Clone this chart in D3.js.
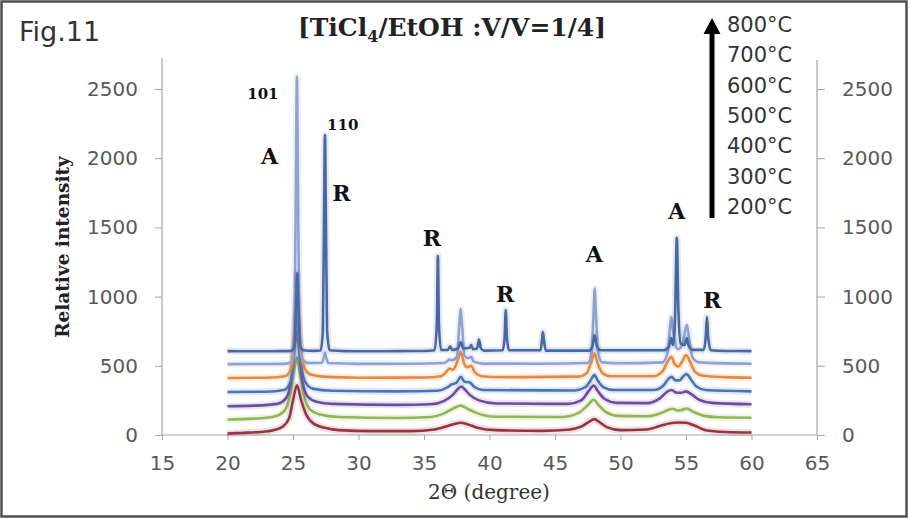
<!DOCTYPE html>
<html>
<head>
<meta charset="utf-8">
<script src="https://cdn.jsdelivr.net/npm/d3@7"></script>
<style>
  body { margin: 0; background: #fff; }
  svg { display: block; }
</style>
</head>
<body>
<div id="chart"></div>
<script>
// annealing temperatures, bottom to top
const temps = ["200°C", "300°C", "400°C", "500°C", "600°C", "700°C", "800°C"];
const colors = ["#973345", "#93b556", "#6b4e9e", "#4775b8", "#e8883b", "#8fa2d2", "#47699f"];

const xTicks = [15, 20, 25, 30, 35, 40, 45, 50, 55, 60, 65];
const yTicks = [0, 500, 1000, 1500, 2000, 2500];

// [2theta, intensity] (curves are stacked, offset ~100 each)
const s200 = [[20,10],[21,15],[22.5,22],[23.5,35],[24.2,60],[24.7,120],[25.0,250],[25.3,360],[25.6,260],[26.0,150],[26.6,80],[27.5,50],[28.5,35],[31,28],[34,28],[35.8,40],[36.8,65],[37.4,82],[37.8,88],[38.3,78],[39,55],[40.5,35],[44,30],[46,38],[47,60],[47.6,95],[48,115],[48.4,92],[49,55],[50,35],[52,40],[53,65],[53.8,85],[54.4,90],[55,88],[55.6,70],[56.5,35],[58,22],[60,18]];
const s300 = [[20,112],[22,118],[23.5,132],[24.3,170],[24.8,300],[25.1,480],[25.3,560],[25.5,460],[25.8,300],[26.3,185],[27,150],[28.5,130],[33,123],[35.5,130],[36.6,160],[37.3,195],[37.8,212],[38.3,190],[39,160],[40.5,132],[45.5,130],[46.8,160],[47.5,215],[47.95,255],[48.3,220],[48.9,165],[49.8,138],[52,135],[53,155],[53.6,180],[53.95,190],[54.35,178],[54.65,180],[55.05,192],[55.5,170],[56.3,140],[57.5,128],[60,125]];
const s400 = [[20,208],[22,212],[23.8,225],[24.5,270],[24.9,420],[25.15,650],[25.3,750],[25.45,620],[25.7,400],[26.1,280],[26.8,240],[28,225],[33,218],[35.5,222],[36.5,245],[37.2,290],[37.6,335],[37.85,350],[38.1,330],[38.5,290],[39.2,250],[40.5,228],[46,225],[47,250],[47.6,320],[47.95,358],[48.25,320],[48.8,260],[49.7,232],[52,230],[53,265],[53.6,315],[53.9,325],[54.3,305],[54.6,305],[55.0,315],[55.4,295],[56,255],[57,232],[60,222]];
const s500 = [[20,311],[23,313],[24.3,325],[24.8,380],[25.05,560],[25.2,800],[25.3,880],[25.42,760],[25.6,540],[25.9,390],[26.5,335],[28,320],[33,315],[36,320],[36.8,345],[37.1,365],[37.5,380],[37.8,420],[38.1,385],[38.5,380],[38.8,350],[39.5,325],[46.5,322],[47.3,345],[47.75,400],[48.0,435],[48.25,395],[48.7,345],[49.5,325],[52.5,325],[53.3,360],[53.7,410],[53.9,420],[54.2,395],[54.5,395],[54.85,430],[55.05,440],[55.35,405],[55.8,350],[56.5,325],[60,315]];
const s600 = [[20,412],[23,414],[24.4,425],[24.8,470],[25.05,650],[25.2,900],[25.3,1000],[25.42,880],[25.6,620],[25.9,480],[26.4,435],[27.5,420],[30,414],[35,415],[36.3,425],[36.7,455],[36.95,480],[37.2,470],[37.5,520],[37.8,600],[38.05,520],[38.3,490],[38.6,500],[38.9,450],[39.4,425],[41,418],[46.8,422],[47.4,445],[47.75,520],[48.0,590],[48.25,520],[48.6,450],[49.2,425],[52.5,425],[53.2,460],[53.6,530],[53.88,565],[54.15,510],[54.4,495],[54.7,530],[55.0,578],[55.3,530],[55.7,455],[56.3,428],[58,418],[60,414]];
const s700 = [[20,512],[23,513],[24.5,516],[24.9,530],[25.1,700],[25.22,1800],[25.3,2590],[25.38,1800],[25.5,700],[25.75,540],[26.2,520],[27.2,522],[27.35,560],[27.44,595],[27.53,560],[27.7,520],[30,514],[34,515],[36.5,520],[36.8,535],[36.95,545],[37.1,540],[37.5,560],[37.7,800],[37.8,912],[37.9,800],[38.1,570],[38.4,555],[38.6,565],[38.8,530],[39.5,516],[44,515],[47.5,520],[47.8,600],[47.95,900],[48.03,1058],[48.12,880],[48.3,590],[48.6,525],[50,518],[53.2,525],[53.6,600],[53.8,800],[53.88,853],[53.98,780],[54.2,650],[54.4,620],[54.7,650],[54.95,760],[55.07,795],[55.2,720],[55.5,560],[56,525],[60,515]];
const s800 = [[20,606],[22,605],[24,606],[24.9,608],[25.1,640],[25.25,1000],[25.32,1170],[25.4,980],[25.55,640],[25.8,612],[26.5,608],[27.1,610],[27.28,750],[27.38,1700],[27.44,2168],[27.5,1700],[27.6,760],[27.8,612],[29,606],[31,605],[33,606],[35,607],[35.8,612],[35.98,800],[36.06,1293],[36.14,800],[36.3,615],[36.8,614],[37.0,640],[37.15,615],[37.6,625],[37.8,670],[38.0,625],[38.5,630],[38.6,650],[38.75,620],[39.05,625],[39.2,690],[39.35,625],[39.6,610],[41.0,612],[41.15,700],[41.24,903],[41.33,700],[41.5,612],[43.9,612],[44.02,700],[44.07,744],[44.15,690],[44.3,610],[47.6,610],[47.85,640],[48.03,720],[48.2,640],[48.5,612],[53.3,612],[53.7,640],[53.87,700],[54.0,650],[54.15,800],[54.3,1424],[54.42,900],[54.6,660],[54.9,650],[55.05,700],[55.2,645],[55.5,615],[56.35,615],[56.5,700],[56.6,853],[56.7,700],[56.9,612],[58,607],[60,606]];
const series = [s200, s300, s400, s500, s600, s700, s800];

// phase labels: [text, 2theta, intensity]
const phaseLabels = [["A", 23.2, 2015], ["R", 28.7, 1750], ["R", 35.6, 1425], ["R", 41.2, 1020], ["A", 48.0, 1310], ["A", 54.3, 1620], ["R", 57.0, 975]];
const hklLabels = [["101", 22.7, 2462], ["110", 28.8, 2240]];

const width = 909, height = 519;
const svg = d3.select("#chart").append("svg")
    .attr("width", width)
    .attr("height", height);

// frame
svg.append("rect")
    .attr("x", 1.5).attr("y", 1.5)
    .attr("width", width - 4).attr("height", height - 4)
    .attr("fill", "none").attr("stroke", "#505050").attr("stroke-width", 2.5);

let x = d3.scaleLinear().domain([15, 65]).range([162, 817]);
let y = d3.scaleLinear().domain([0, 2500]).range([435, 89]);
const yTop = 58;

const tickFont = "DejaVu Sans";

// x axis
let xAxis = svg.append("g")
    .attr("transform", `translate(0,${y(0)})`)
    .call(d3.axisBottom(x).tickValues(xTicks).tickSize(5).tickPadding(16).tickFormat(d3.format("d")));
xAxis.select(".domain").remove();
xAxis.selectAll("line").attr("stroke", "#a6a6a6");
xAxis.selectAll("text").attr("font-family", tickFont).attr("font-size", 20).attr("fill", "#595959");

// left y axis
let yAxisL = svg.append("g")
    .attr("transform", `translate(${x(15)},0)`)
    .call(d3.axisLeft(y).tickValues(yTicks).tickSize(7).tickPadding(17).tickFormat(d3.format("d")));
yAxisL.select(".domain").remove();
yAxisL.selectAll("line").attr("stroke", "#a6a6a6");
yAxisL.selectAll("text").attr("font-family", tickFont).attr("font-size", 20).attr("fill", "#595959");

// right y axis
let yAxisR = svg.append("g")
    .attr("transform", `translate(${x(65)},0)`)
    .call(d3.axisRight(y).tickValues(yTicks).tickSize(8).tickPadding(17).tickFormat(d3.format("d")));
yAxisR.select(".domain").remove();
yAxisR.selectAll("line").attr("stroke", "#a6a6a6");
yAxisR.selectAll("text").attr("font-family", tickFont).attr("font-size", 20).attr("fill", "#595959");

// axis lines
svg.append("line").attr("x1", x(15)).attr("x2", x(65)).attr("y1", y(0)).attr("y2", y(0))
    .attr("stroke", "#a6a6a6").attr("stroke-width", 1.2);
svg.append("line").attr("x1", x(15)).attr("x2", x(15)).attr("y1", yTop).attr("y2", y(0))
    .attr("stroke", "#a6a6a6").attr("stroke-width", 1.2);
svg.append("line").attr("x1", x(65)).attr("x2", x(65)).attr("y1", yTop + 2).attr("y2", y(0))
    .attr("stroke", "#a6a6a6").attr("stroke-width", 1.2);

// curves
let line = d3.line()
    .x(function(d) { return x(d[0]) })
    .y(function(d) { return y(d[1]) })
    .curve(d3.curveMonotoneX);

let curves = svg.append("g");
series.forEach(function(s, i) {
    curves.append("path")
        .attr("d", line(s))
        .attr("fill", "none")
        .attr("stroke", colors[i])
        .attr("stroke-opacity", 0.15)
        .attr("stroke-width", 7)
        .attr("stroke-linejoin", "round");
    curves.append("path")
        .attr("d", line(s))
        .attr("fill", "none")
        .attr("stroke", colors[i])
        .attr("stroke-width", 2.6)
        .attr("stroke-linejoin", "round");
});

// phase labels
svg.append("g").selectAll("text").data(phaseLabels).enter()
    .append("text")
    .attr("x", function(d) { return x(d[1]) })
    .attr("y", function(d) { return y(d[2]) })
    .attr("text-anchor", "middle")
    .attr("dominant-baseline", "central")
    .attr("font-family", "DejaVu Serif")
    .attr("font-weight", "bold")
    .attr("font-size", 22)
    .attr("fill", "#111")
    .text(function(d) { return d[0] });

svg.append("g").selectAll("text").data(hklLabels).enter()
    .append("text")
    .attr("x", function(d) { return x(d[1]) })
    .attr("y", function(d) { return y(d[2]) })
    .attr("text-anchor", "middle")
    .attr("dominant-baseline", "central")
    .attr("font-family", "DejaVu Serif")
    .attr("font-weight", "bold")
    .attr("font-size", 15)
    .attr("fill", "#111")
    .text(function(d) { return d[0] });

// axis titles
svg.append("text")
    .attr("x", 489).attr("y", 499)
    .attr("text-anchor", "middle")
    .attr("font-family", "DejaVu Serif")
    .attr("font-size", 20)
    .attr("fill", "#333")
    .text("2Θ (degree)");

svg.append("text")
    .attr("transform", "translate(69,247) rotate(-90)")
    .attr("text-anchor", "middle")
    .attr("font-family", "DejaVu Serif")
    .attr("font-weight", "bold")
    .attr("font-size", 18.5)
    .attr("fill", "#222")
    .text("Relative intensity");

// figure label and title
svg.append("text")
    .attr("x", 19).attr("y", 41)
    .attr("font-family", "DejaVu Sans")
    .attr("font-size", 27)
    .attr("fill", "#333")
    .text("Fig.11");

let title = svg.append("text")
    .attr("x", 452).attr("y", 36)
    .attr("text-anchor", "middle")
    .attr("font-family", "DejaVu Serif")
    .attr("font-weight", "bold")
    .attr("font-size", 25)
    .attr("fill", "#222");
title.append("tspan").text("[TiCl");
title.append("tspan").attr("font-size", 16).attr("dy", 6).text("4");
title.append("tspan").attr("dy", -6).text("/EtOH :V/V=1/4]");

// temperature arrow and labels
const arrowX = 712;
svg.append("line")
    .attr("x1", arrowX).attr("x2", arrowX).attr("y1", 218).attr("y2", 30)
    .attr("stroke", "#000").attr("stroke-width", 5);
svg.append("path")
    .attr("d", `M${arrowX},18 L${arrowX + 8.5},34 L${arrowX - 8.5},34 Z`)
    .attr("fill", "#000");

let legend = svg.append("g");
temps.slice().reverse().forEach(function(t, i) {
    legend.append("text")
        .attr("x", 727)
        .attr("y", 25 + i * 30.3)
        .attr("dominant-baseline", "central")
        .attr("font-family", "DejaVu Sans")
        .attr("font-size", 21)
        .attr("fill", "#333")
        .text(t);
});
</script>
</body>
</html>
